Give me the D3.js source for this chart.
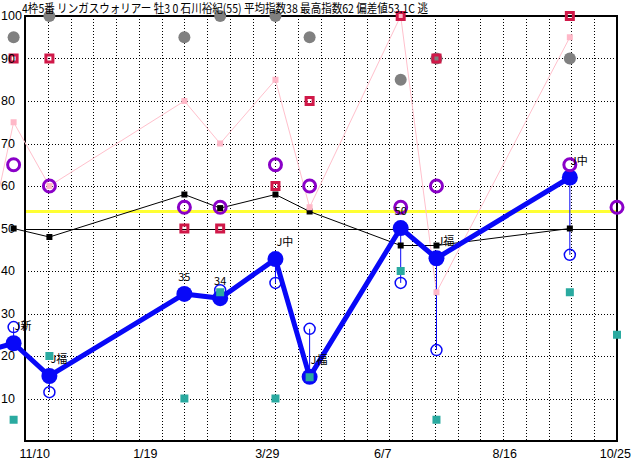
<!DOCTYPE html>
<html lang="ja">
<head>
<meta charset="UTF-8">
<title>指数チャート</title>
<style>
  body { margin: 0; padding: 0; background: #fff; overflow: hidden; }
  svg { display: block; }
  .num { font-family: "Liberation Sans", Arial, sans-serif; font-size: 12.5px; }
  .jp { font-family: "Noto Sans CJK JP", sans-serif; font-size: 11px; }
  .title { font-family: "Noto Sans CJK JP", sans-serif; font-size: 12px; }
</style>
</head>
<body>
<svg id="chart" width="632" height="460"></svg>
<script src="https://d3js.org/d3.v7.min.js"></script>
<script>
// days counted from 10/26 of the previous year (axis runs 26 x 14 days)
const raceDays    = [-21, -7, 15, 98, 120, 154, 175, 231, 253, 335, 364];
const indexVals   = [21.5, 23, 15.3, 34.6, 33.6, 42.8, 15.1, 50.1, 43, 62, null];
const openVals    = [null, 26.8, 11.5, null, 35.5, 37.2, 26.4, 37.2, 21.4, 43.8, null];
const blackVals   = [null, 50, 48, 58, 54.8, 58, 54, 46, 46, 50, null];
const pinkVals    = [50, 75, 60, 80, 70, 85, 55, 100, 35, 95, null];
const purpleVals  = [null, 65, 60, 55, 55, 65, 60, 55, 60, 65, 55];
const grayVals    = [null, 95, 100, 95, 100, 100, 95, 85, 90, 90, null];
const crimsonVals = [null, 90, 90, 50, 50, 60, 80, 100, 90, 100, null];
const tealVals    = [null, 5, 20, 10, 35, 10, 15, 40, 5, 35, 25];
const raceLabels  = [null, "J新", "J福", "35", "34", "J中", "J福", "50", "J福", "J中", null];

const yTicks = [100, 90, 80, 70, 60, 50, 40, 30, 20, 10];
const xTickDays = [6, 74, 149, 220, 295, 363];
const xTickLabels = ["11/10", "1/19", "3/29", "6/7", "8/16", "10/25"];
const baseLine = 50;
const yellowLine = 54;
const title = "4枠5番 リンガスウォリアー 牡3 0 石川裕紀(55) 平均指数38 最高指数62 偏差値53.1C 逃";

const plotL = 25, plotR = 617, plotT = 16, plotB = 441;
const svg = d3.select("#chart");

const x = d3.scaleLinear().domain([0, 364]).range([plotL, plotR]);
const y = d3.scaleLinear().domain([0, 100]).range([plotB, plotT]);

// grid
const grid = svg.append("g").attr("stroke", "#000").attr("stroke-width", 1).attr("stroke-dasharray", "1,2");
grid.selectAll("line.v").data(d3.range(14, 364, 14)).enter().append("line")
  .attr("x1", d => Math.round(x(d)) + 0.5).attr("x2", d => Math.round(x(d)) + 0.5)
  .attr("y1", plotT).attr("y2", plotB);
grid.selectAll("line.h").data(d3.range(10, 100, 10)).enter().append("line")
  .attr("x1", plotL).attr("x2", plotR)
  .attr("y1", d => Math.round(y(d)) + 0.5).attr("y2", d => Math.round(y(d)) + 0.5);

// reference lines
svg.append("line").attr("x1", plotL).attr("x2", plotR)
  .attr("y1", Math.round(y(baseLine)) + 0.5).attr("y2", Math.round(y(baseLine)) + 0.5)
  .attr("stroke", "#000").attr("stroke-width", 1);
svg.append("line").attr("x1", plotL).attr("x2", plotR)
  .attr("y1", y(yellowLine)).attr("y2", y(yellowLine))
  .attr("stroke", "#ffff33").attr("stroke-width", 3);

// frame
svg.append("rect").attr("x", plotL).attr("y", plotT).attr("width", plotR - plotL).attr("height", plotB - plotT)
  .attr("fill", "none").attr("stroke", "#000").attr("stroke-width", 2);

const races = raceDays.map((d, i) => ({
  d, idx: indexVals[i], open: openVals[i], black: blackVals[i], pink: pinkVals[i],
  purple: purpleVals[i], gray: grayVals[i], crimson: crimsonVals[i], teal: tealVals[i], label: raceLabels[i]
}));

const lineOf = key => d3.line().x(r => x(r.d)).y(r => y(r[key]));
const withVal = key => races.filter(r => r[key] != null);

// pink line
svg.append("path").datum(withVal("pink")).attr("d", lineOf("pink"))
  .attr("fill", "none").attr("stroke", "#ffc0cc").attr("stroke-width", 1);
// black line
svg.append("path").datum(withVal("black")).attr("d", lineOf("black"))
  .attr("fill", "none").attr("stroke", "#000").attr("stroke-width", 1);
// blue thick line
svg.append("path").datum(withVal("idx")).attr("d", lineOf("idx"))
  .attr("fill", "none").attr("stroke", "#0808f8").attr("stroke-width", 5).attr("stroke-linejoin", "round");
// vertical connectors
svg.selectAll("line.conn").data(races.filter(r => r.idx != null && r.open != null)).enter().append("line")
  .attr("x1", r => x(r.d)).attr("x2", r => x(r.d))
  .attr("y1", r => y(r.idx)).attr("y2", r => y(r.open))
  .attr("stroke", "#0808f8").attr("stroke-width", 1);

// black squares
svg.selectAll("rect.blk").data(withVal("black")).enter().append("rect")
  .attr("x", r => x(r.d) - 3).attr("y", r => y(r.black) - 3).attr("width", 6).attr("height", 6).attr("fill", "#000");
// pink squares
svg.selectAll("rect.pk").data(withVal("pink")).enter().append("rect")
  .attr("x", r => x(r.d) - 3).attr("y", r => y(r.pink) - 3).attr("width", 6).attr("height", 6).attr("fill", "#ffb8c8");
// open blue circles
svg.selectAll("circle.op").data(withVal("open")).enter().append("circle")
  .attr("cx", r => x(r.d)).attr("cy", r => y(r.open)).attr("r", 5.5)
  .attr("fill", "none").attr("stroke", "#0808f8").attr("stroke-width", 1.5);
// blue dots
svg.selectAll("circle.ix").data(withVal("idx")).enter().append("circle")
  .attr("cx", r => x(r.d)).attr("cy", r => y(r.idx)).attr("r", 8).attr("fill", "#0808f8");
// purple circles
svg.selectAll("circle.pu").data(withVal("purple")).enter().append("circle")
  .attr("cx", r => x(r.d)).attr("cy", r => y(r.purple)).attr("r", 6)
  .attr("fill", "none").attr("stroke", "#8a00c8").attr("stroke-width", 3);
// teal squares
svg.selectAll("rect.tl").data(withVal("teal")).enter().append("rect")
  .attr("x", r => x(r.d) - 4).attr("y", r => y(r.teal) - 4).attr("width", 8).attr("height", 8).attr("fill", "#2aaaa0");
// gray circles
svg.selectAll("circle.gy").data(withVal("gray")).enter().append("circle")
  .attr("cx", r => x(r.d)).attr("cy", r => y(r.gray)).attr("r", 6).attr("fill", "#808080");
// crimson squares
svg.selectAll("rect.cr").data(withVal("crimson")).enter().append("rect")
  .attr("x", r => x(r.d) - 3.5).attr("y", r => y(r.crimson) - 3.5).attr("width", 7).attr("height", 7)
  .attr("fill", "none").attr("stroke", "#d01848").attr("stroke-width", 3);

// race labels: numbers centred over the dot, course names start at the dot
const isNum = s => /^\d+$/.test(s);
svg.selectAll("text.rl").data(races.filter(r => r.label)).enter().append("text")
  .attr("class", "jp")
  .attr("x", r => isNum(r.label) ? x(r.d) : x(r.d) + 1)
  .attr("text-anchor", r => isNum(r.label) ? "middle" : "start")
  .attr("y", r => y(r.idx) - 13)
  .text(r => r.label);

// axis labels
svg.selectAll("text.yl").data(yTicks).enter().append("text")
  .attr("class", "num").attr("x", 1).attr("y", d => y(d)).attr("dy", "0.35em").text(d => d);
svg.selectAll("text.xl").data(xTickDays).enter().append("text")
  .attr("class", "num").attr("x", d => x(d)).attr("y", 458).attr("text-anchor", "middle")
  .text((d, i) => xTickLabels[i]);

// title
svg.append("text").attr("class", "title").attr("x", 22).attr("y", 13)
  .attr("textLength", 406).attr("lengthAdjust", "spacingAndGlyphs").text(title);
</script>
</body>
</html>
